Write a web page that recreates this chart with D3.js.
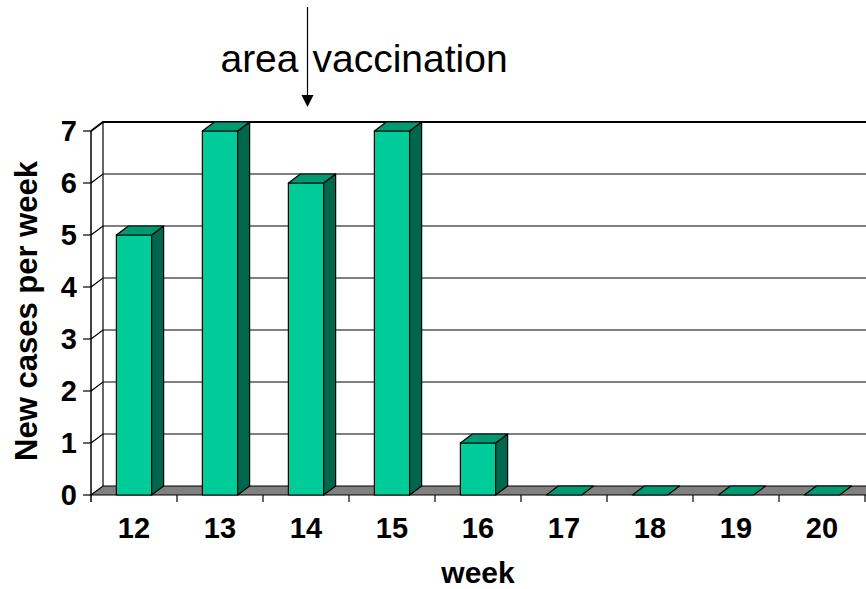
<!DOCTYPE html>
<html><head><meta charset="utf-8">
<script src="https://cdn.jsdelivr.net/npm/d3@7"></script>
<style>html,body{margin:0;padding:0;background:#fff;}svg{display:block;}</style>
</head><body>
<script>
const weeks = ["12","13","14","15","16","17","18","19","20"];
const cases = [5,7,6,7,1,0,0,0,0];
const yTicks = [0,1,2,3,4,5,6,7];
const yTitle = "New cases per week";
const xTitle = "week";
const annotationWeek = "14";
const annotationLeft = "area";
const annotationRight = "vaccination";

const W = 866, H = 589;
const DX = 12, DY = -9;
const colFront = "#00CC99", colTop = "#009971", colSide = "#00664C";
const font = "'Liberation Sans', Arial, sans-serif";

const svg = d3.select("body").append("svg").attr("width", W).attr("height", H);
const x = d3.scaleBand().domain(weeks).range([91, 865]);
const y = d3.scaleLinear().domain([0, 7]).range([495, 131]);
const bw = x.bandwidth() * 0.41;
const farX = W + 20;

// back wall gridlines + side wall diagonals
yTicks.forEach(t => {
  if (t === 0) return;
  const yf = y(t), yb = y(t) + DY;
  svg.append("path")
    .attr("d", `M${x.range()[0]},${yf}L${x.range()[0]+DX},${yb}L${farX},${yb}`)
    .attr("fill", "none").attr("stroke", "#000").attr("stroke-width", t === 7 ? 2 : 1.2);
});
// back wall left edge
svg.append("line").attr("x1", 91 + DX).attr("x2", 91 + DX)
  .attr("y1", y(7) + DY).attr("y2", y(0) + DY).attr("stroke", "#000").attr("stroke-width", 1.2);

// floor
svg.append("path")
  .attr("d", `M91,${y(0)}L${farX},${y(0)}L${farX+DX},${y(0)+DY}L${91+DX},${y(0)+DY}Z`)
  .attr("fill", "#808080").attr("stroke", "#000").attr("stroke-width", 1.2);

// front axis line
svg.append("line").attr("x1", 91).attr("x2", 91).attr("y1", y(7)).attr("y2", y(0) + 7)
  .attr("stroke", "#000").attr("stroke-width", 1.5);
// y ticks
yTicks.forEach(t => {
  svg.append("line").attr("x1", 83).attr("x2", 91).attr("y1", y(t)).attr("y2", y(t))
    .attr("stroke", "#000").attr("stroke-width", 1.2);
  svg.append("text").attr("x", 77).attr("y", y(t)).attr("dy", "0.36em")
    .attr("text-anchor", "end").attr("font-family", font).attr("font-weight", "bold")
    .attr("font-size", 29).text(t);
});
// x ticks
weeks.forEach((w, i) => {
  const xe = x(w) + x.bandwidth();
  svg.append("line").attr("x1", xe).attr("x2", xe).attr("y1", y(0)).attr("y2", y(0) + 7)
    .attr("stroke", "#000").attr("stroke-width", 1.2);
  svg.append("text").attr("x", x(w) + x.bandwidth() / 2).attr("y", 537.5)
    .attr("text-anchor", "middle").attr("font-family", font).attr("font-weight", "bold")
    .attr("font-size", 29).text(w);
});

// bars
weeks.forEach((w, i) => {
  const v = cases[i];
  const cx = x(w) + x.bandwidth() / 2;
  const x0 = cx - bw / 2, x1 = cx + bw / 2;
  const yt = y(v), yb = y(0);
  const g = svg.append("g").attr("stroke", "#000").attr("stroke-width", 1.2).attr("stroke-linejoin", "round");
  if (v > 0) {
    g.append("rect").attr("x", x0).attr("y", yt).attr("width", bw).attr("height", yb - yt).attr("fill", colFront);
    g.append("path").attr("d", `M${x1},${yt}L${x1+DX},${yt+DY}L${x1+DX},${yb+DY}L${x1},${yb}Z`).attr("fill", colSide);
  }
  g.append("path").attr("d", `M${x0},${yt}L${x0+DX},${yt+DY}L${x1+DX},${yt+DY}L${x1},${yt}Z`).attr("fill", colTop);
});

// axis titles
svg.append("text").attr("transform", `translate(37,311) rotate(-90)`)
  .attr("text-anchor", "middle").attr("font-family", font).attr("font-weight", "bold")
  .attr("font-size", 31).text(yTitle);
svg.append("text").attr("x", x("16") + x.bandwidth() / 2).attr("y", 583)
  .attr("text-anchor", "middle").attr("font-family", font).attr("font-weight", "bold")
  .attr("font-size", 30).text(xTitle);

// annotation
const ax = x(annotationWeek) + x.bandwidth() / 2 + 1.5;
svg.append("line").attr("x1", ax).attr("x2", ax).attr("y1", 7).attr("y2", 97)
  .attr("stroke", "#000").attr("stroke-width", 1.2);
svg.append("path").attr("d", `M${ax-6},${95}L${ax+6},${95}L${ax},${107}Z`).attr("fill", "#000");
svg.append("text").attr("x", ax - 9).attr("y", 72).attr("text-anchor", "end")
  .attr("font-family", font).attr("font-size", 39).text(annotationLeft);
svg.append("text").attr("x", ax + 5).attr("y", 72).attr("text-anchor", "start")
  .attr("font-family", font).attr("font-size", 39).text(annotationRight);
</script>
</body></html>
